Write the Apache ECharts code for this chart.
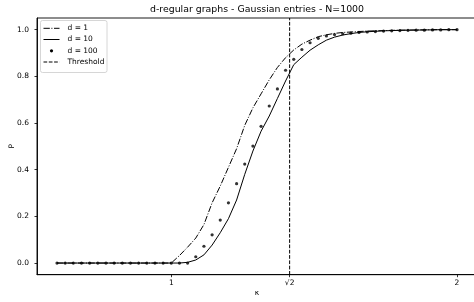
<!DOCTYPE html>
<html><head><meta charset="utf-8">
<script src="https://cdn.jsdelivr.net/npm/echarts@6/dist/echarts.min.js"></script>
<style>html,body{margin:0;padding:0;background:#fff}#c{width:474px;height:302px}</style>
</head><body><div id="c"></div>
<script>
const kappa = [0.6,0.6286,0.6571,0.6857,0.7143,0.7429,0.7714,0.8,0.8286,0.8571,
  0.8857,0.9143,0.9429,0.9714,1.0,1.0286,1.0571,1.0857,1.1143,1.1429,
  1.1714,1.2,1.2286,1.2571,1.2857,1.3143,1.3429,1.3714,1.4,1.4286,
  1.4571,1.4857,1.5143,1.5429,1.5714,1.6,1.6286,1.6571,1.6857,1.7143,
  1.7429,1.7714,1.8,1.8286,1.8571,1.8857,1.9143,1.9429,1.9714,2.0];
const pD1 = [0,0,0,0,0,0,0,0,0,0,
  0,0,0,0,0,0.032,0.068,0.107,0.165,0.258,
  0.33,0.41,0.49,0.59,0.665,0.725,0.785,0.838,0.88,0.913,
  0.938,0.955,0.97,0.978,0.984,0.988,0.99,0.992,0.994,0.995,
  0.996,0.997,0.998,0.998,0.999,0.999,1,1,1,1];
const pD10 = [0,0,0,0,0,0,0,0,0,0,
  0,0,0,0,0,0,0.003,0.013,0.035,0.077,
  0.13,0.19,0.27,0.38,0.48,0.565,0.63,0.705,0.78,0.85,
  0.882,0.912,0.935,0.955,0.968,0.977,0.983,0.988,0.991,0.993,
  0.995,0.996,0.997,0.998,0.998,0.999,0.999,1,1,1];
const pD100 = [0,0,0,0,0,0,0,0,0,0,
  0,0,0,0,0,0,0,0.027,0.072,0.121,
  0.184,0.258,0.34,0.424,0.501,0.586,0.673,0.746,0.826,0.873,
  0.915,0.944,0.963,0.973,0.979,0.982,0.985,0.988,0.99,0.992,
  0.994,0.995,0.996,0.997,0.998,0.998,0.999,0.999,1,1];
const thresholdKappa = Math.SQRT2;
const xTicks = [1, Math.SQRT2, 2];
const xTickLabels = ['1', '√2', '2'];
const yTicks = [0, 0.2, 0.4, 0.6, 0.8, 1.0];
const yTickLabels = ['0.0', '0.2', '0.4', '0.6', '0.8', '1.0'];
const seriesNames = ['d = 1', 'd = 10', 'd = 100', 'Threshold'];
const titleText = 'd-regular graphs - Gaussian entries - N=1000';
const xName = 'κ', yName = 'P';
const xRange = [0.53, 2.07], yRange = [-0.05, 1.05];

const FONT = 'DejaVu Sans';
const DASHDOT = [6.3, 1.6, 1, 1.6];
const DASHED = [3.7, 1.6];
const pairs = (ys) => kappa.map((k, i) => [k, ys[i]]);

const chart = echarts.init(document.getElementById('c'), null, {renderer: 'canvas'});
const legX = 43.5, legTextX = 67.5, legRows = [28.3, 39.5, 50.8, 62];
chart.setOption({
  animation: false,
  backgroundColor: '#fff',
  title: {
    text: titleText, left: 257, top: 4, padding: 0, textAlign: 'center',
    textStyle: {fontFamily: FONT, fontSize: 9.4, fontWeight: 'normal', color: '#000', lineHeight: 11}
  },
  grid: {left: 37, top: 18, width: 440, height: 256.7, show: true, borderColor: '#000', borderWidth: 0.9,
    backgroundColor: 'transparent', containLabel: false, outerBoundsMode: 'none'},
  xAxis: {
    type: 'value', min: xRange[0], max: xRange[1],
    name: xName, nameLocation: 'middle', nameGap: 14, nameMoveOverlap: false,
    nameTextStyle: {fontFamily: FONT, fontSize: 7.5, color: '#000'},
    axisLine: {show: true, onZero: false, lineStyle: {color: '#000', width: 0.9}},
    axisTick: {show: true, length: 2.5, customValues: xTicks, lineStyle: {color: '#000', width: 0.8}},
    axisLabel: {customValues: xTicks, margin: 4.5, fontFamily: FONT, fontSize: 7.5, color: '#000',
      formatter: (v) => { const i = xTicks.findIndex(t => Math.abs(t - v) < 1e-6); return i >= 0 ? xTickLabels[i] : ''; }},
    splitLine: {show: false}
  },
  yAxis: {
    type: 'value', min: yRange[0], max: yRange[1],
    name: yName, nameLocation: 'middle', nameGap: 21, nameMoveOverlap: false,
    nameTextStyle: {fontFamily: FONT, fontSize: 7.5, color: '#000'},
    axisLine: {show: true, onZero: false, lineStyle: {color: '#000', width: 0.9}},
    axisTick: {show: true, length: 2.5, customValues: yTicks, lineStyle: {color: '#000', width: 0.8}},
    axisLabel: {customValues: yTicks, margin: 8, fontFamily: FONT, fontSize: 7.5, color: '#000',
      formatter: (v) => { const i = yTicks.findIndex(t => Math.abs(t - v) < 1e-6); return i >= 0 ? yTickLabels[i] : ''; }},
    splitLine: {show: false}
  },
  series: [
    {name: seriesNames[0], type: 'line', data: pairs(pD1), showSymbol: false, symbol: 'none',
      lineStyle: {color: '#000', width: 1, type: DASHDOT}},
    {name: seriesNames[1], type: 'line', data: pairs(pD10), showSymbol: false, symbol: 'none',
      lineStyle: {color: '#000', width: 1}},
    {name: seriesNames[2], type: 'scatter', data: pairs(pD100), symbol: 'circle', symbolSize: 3.2,
      itemStyle: {color: '#000'}},
    {name: seriesNames[3], type: 'line', data: [[thresholdKappa, yRange[0]], [thresholdKappa, yRange[1]]],
      showSymbol: false, symbol: 'none', lineStyle: {color: '#000', width: 1, type: DASHED}}
  ],
  graphic: [
    {type: 'rect', shape: {x: 40.5, y: 20.5, width: 66.5, height: 52, r: 2}, style: {fill: '#fff', stroke: '#cccccc', lineWidth: 0.8}, z: 100},
    {type: 'line', shape: {x1: legX, y1: legRows[0], x2: legX + 16, y2: legRows[0]}, style: {stroke: '#000', lineWidth: 1, lineDash: DASHDOT}, z: 101},
    {type: 'line', shape: {x1: legX, y1: legRows[1], x2: legX + 16, y2: legRows[1]}, style: {stroke: '#000', lineWidth: 1}, z: 101},
    {type: 'circle', shape: {cx: legX + 8, cy: legRows[2], r: 1.6}, style: {fill: '#000'}, z: 101},
    {type: 'line', shape: {x1: legX, y1: legRows[3], x2: legX + 16, y2: legRows[3]}, style: {stroke: '#000', lineWidth: 1, lineDash: DASHED}, z: 101},
    ...seriesNames.map((n, i) => ({type: 'text', x: legTextX, y: legRows[i], z: 101,
      style: {text: n, fontFamily: FONT, fontSize: 7.5, fill: '#000', verticalAlign: 'middle', textAlign: 'left'}}))
  ]
});
</script></body></html>
